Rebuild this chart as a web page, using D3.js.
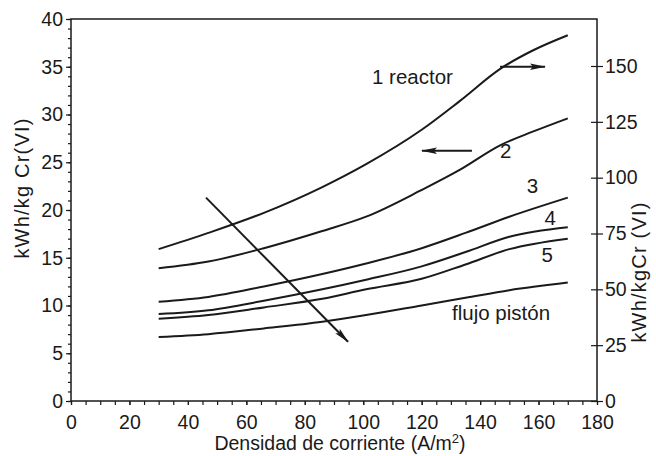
<!DOCTYPE html>
<html><head><meta charset="utf-8">
<script src="https://cdn.jsdelivr.net/npm/d3@7"></script>
<style>
body{margin:0;background:#fff;}
text{font-family:"Liberation Sans",Arial,sans-serif;fill:#1a1a1a;}
</style></head>
<body><svg id="c" width="656" height="456"></svg>
<script>
// ---- data ----
const xTicks = [0,20,40,60,80,100,120,140,160,180];
const yLeftTicks = [0,5,10,15,20,25,30,35,40];
const yRightTicks = [0,25,50,75,100,125,150];
const seriesNames = ["1 reactor","2","3","4","5","flujo pistón"];
const xs1 = [30,47,66,86,101,120,133,147,158,170];
const reactor1 = [15.9,17.6,19.7,22.4,24.8,28.4,31.4,34.8,36.7,38.3];
const reactor2 = [13.9,14.6,16.0,17.8,19.3,22.1,24.2,26.8,28.2,29.6];
const xs2 = [30,47,66,86,101,120,135,150,170];
const reactor3 = [10.4,10.9,12.0,13.3,14.4,16.0,17.6,19.3,21.3];
const reactor4 = [9.1,9.5,10.5,11.7,12.7,14.1,15.6,17.2,18.2];
const reactor5 = [8.6,9.0,9.8,10.7,11.7,12.8,14.3,15.9,17.0];
const piston   = [6.7,7.0,7.6,8.3,9.0,10.0,10.8,11.6,12.4];

// ---- layout ----
const svg = d3.select("#c");
const L=71, R=597, T=19, B=401;
const x = d3.scaleLinear().domain([0,180]).range([L,R]);
const y = d3.scaleLinear().domain([0,40]).range([B,T]);
const yR = d3.scaleLinear().domain([0,150]).range([B,66]);
const ink="#1a1a1a";
const FONT="'Liberation Sans',Arial,sans-serif";

svg.append("defs").append("marker").attr("id","ah").attr("viewBox","0 0 16 8")
  .attr("refX",15).attr("refY",4).attr("markerWidth",16).attr("markerHeight",8)
  .attr("markerUnits","userSpaceOnUse").attr("orient","auto")
  .append("path").attr("d","M0,0.8 L16,4 L0,7.2 L3,4 Z").attr("fill",ink);

// frame
svg.append("rect").attr("x",L).attr("y",T).attr("width",R-L).attr("height",B-T)
  .attr("fill","none").attr("stroke",ink).attr("stroke-width",1.5);

// axes
const fs=19.5;
const bottom = svg.append("g").attr("transform",`translate(0,${B})`)
  .call(d3.axisBottom(x).tickValues(d3.range(0,181,5)).tickSize(4).tickFormat(""));
const bottomL = svg.append("g").attr("transform",`translate(0,${B})`)
  .call(d3.axisBottom(x).tickValues(xTicks).tickSize(4).tickPadding(10).tickFormat(d3.format("d")));
const left = svg.append("g").attr("transform",`translate(${L},0)`)
  .call(d3.axisLeft(y).tickValues(d3.range(0,40.1,1)).tickSize(3).tickFormat(""));
const leftL = svg.append("g").attr("transform",`translate(${L},0)`)
  .call(d3.axisLeft(y).tickValues(yLeftTicks).tickSize(5).tickPadding(3).tickFormat(d3.format("d")));
const right = svg.append("g").attr("transform",`translate(${R},0)`)
  .call(d3.axisRight(yR).tickValues(yRightTicks).tickSize(6).tickPadding(2).tickFormat(d3.format("d")));
right.selectAll(".tick line").attr("x1",-6);
[bottom,bottomL,left,leftL,right].forEach(g=>{
  g.select(".domain").remove();
  g.selectAll(".tick line").attr("stroke",ink).attr("stroke-width",1.2);
  g.selectAll("text").attr("font-size",fs).attr("fill",ink).style("font-family",FONT);
});

// axis titles
svg.append("text").attr("x",340).attr("y",450).attr("text-anchor","middle")
  .attr("font-size",19.5).html("Densidad de corriente (A/m<tspan font-size='13' dy='-7'>2</tspan><tspan dy='7'>)</tspan>");
svg.append("text").attr("transform","translate(29,188) rotate(-90)").attr("text-anchor","middle")
  .attr("font-size",20).attr("letter-spacing",1.2).text("kWh/kg Cr(VI)");
svg.append("text").attr("transform","translate(646,272) rotate(-90)").attr("text-anchor","middle")
  .attr("font-size",20).attr("letter-spacing",1.2).text("kWh/kgCr (VI)");

// curves
const line = d3.line().x(d=>x(d[0])).y(d=>y(d[1])).curve(d3.curveMonotoneX);
const series = [
  [xs1,reactor1],[xs1,reactor2],[xs2,reactor3],[xs2,reactor4],[xs2,reactor5],[xs2,piston]
];
series.forEach(([xx,vv])=>{
  svg.append("path").datum(xx.map((v,i)=>[v,vv[i]])).attr("d",line)
    .attr("fill","none").attr("stroke",ink).attr("stroke-width",2);
});

// labels
const labelPos = [[103,33.2],[146.8,25.4],[156,21.8],[162,18.4],[161,14.6],[130.4,8.5]];
seriesNames.forEach((n,i)=>{
  svg.append("text").attr("x",x(labelPos[i][0])).attr("y",y(labelPos[i][1]))
    .attr("font-size",20.5).text(n);
});

// arrows
function arrow(x1,y1,x2,y2){
  svg.append("line").attr("x1",x(x1)).attr("y1",y(y1)).attr("x2",x(x2)).attr("y2",y(y2))
    .attr("stroke",ink).attr("stroke-width",2).attr("marker-end","url(#ah)");
}
arrow(146.8,35.0,162.2,35.0);
arrow(137.2,26.2,120.1,26.2);
arrow(46.2,21.3,94.8,6.2);
</script></body></html>
